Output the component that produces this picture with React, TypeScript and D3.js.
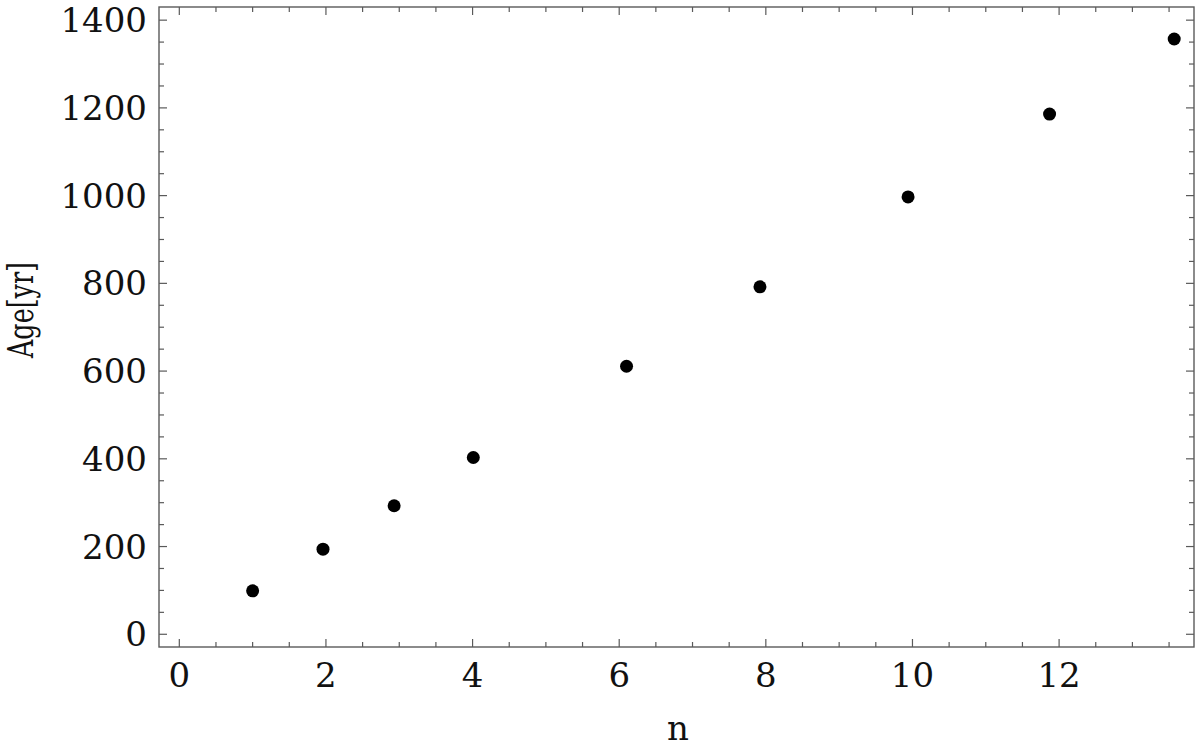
import React from "react";
import * as d3 from "d3";

const nValues = [1.0, 1.96, 2.93, 4.01, 6.1, 7.92, 9.94, 11.87, 13.57];
const ageValues = [99, 194, 293, 403, 611, 792, 997, 1186, 1357];
const xTicks = [0, 2, 4, 6, 8, 10, 12];
const yTicks = [0, 200, 400, 600, 800, 1000, 1200, 1400];
const xLabel = "n";
const yLabel = "Age[yr]";

const W = 1200;
const H = 750;
const left = 159;
const right = 1194;
const top = 7;
const bottom = 647;

export default function App() {
  const x = d3.scaleLinear().domain([-0.277, 13.84]).range([left, right]);
  const y = d3.scaleLinear().domain([-29, 1430]).range([bottom, top]);
  const xMinor = d3.range(0, 14.0, 0.5).filter((v) => x(v) < right - 1);
  const yMinor = d3.range(0, 1430, 50);
  const axisColor = "#5a5a5a";
  const font = "'DejaVu Serif', serif";
  const majorLen = 8;
  const minorLen = 5;
  return (
    <svg
      width={W}
      height={H}
      style={{ position: "absolute", left: 0, top: 0, background: "#fff" }}
    >
      <rect
        x={left}
        y={top}
        width={right - left}
        height={bottom - top}
        fill="none"
        stroke={axisColor}
        strokeWidth={1.4}
      />
      {xMinor.map((v) => {
        const major = xTicks.includes(v);
        const len = major ? majorLen : minorLen;
        return (
          <g key={"xt" + v}>
            <line x1={x(v)} x2={x(v)} y1={bottom} y2={bottom - len} stroke={axisColor} strokeWidth={1.2} />
            <line x1={x(v)} x2={x(v)} y1={top} y2={top + len} stroke={axisColor} strokeWidth={1.2} />
          </g>
        );
      })}
      {yMinor.map((v) => {
        const major = yTicks.includes(v);
        const len = major ? majorLen : minorLen;
        return (
          <g key={"yt" + v}>
            <line x1={left} x2={left + len} y1={y(v)} y2={y(v)} stroke={axisColor} strokeWidth={1.2} />
            <line x1={right} x2={right - len} y1={y(v)} y2={y(v)} stroke={axisColor} strokeWidth={1.2} />
          </g>
        );
      })}
      {xTicks.map((v) => (
        <text
          key={"xl" + v}
          x={x(v)}
          y={687}
          textAnchor="middle"
          fontFamily={font}
          fontSize={34}
          fill="#111"
        >
          {v}
        </text>
      ))}
      {yTicks.map((v) => (
        <text
          key={"yl" + v}
          x={147}
          y={y(v)}
          textAnchor="end"
          dominantBaseline="central"
          fontFamily={font}
          fontSize={34}
          fill="#111"
        >
          {v}
        </text>
      ))}
      <text
        x={678}
        y={740}
        textAnchor="middle"
        fontFamily={font}
        fontSize={34}
        fill="#111"
      >
        {xLabel}
      </text>
      <text
        transform={`translate(33,310) rotate(-90)`}
        textAnchor="middle"
        fontFamily={font}
        fontSize={36}
        textLength={96}
        lengthAdjust="spacingAndGlyphs"
        fill="#111"
      >
        {yLabel}
      </text>
      {nValues.map((n, i) => (
        <circle key={"p" + i} cx={x(n)} cy={y(ageValues[i])} r={6.5} fill="#000" />
      ))}
    </svg>
  );
}
